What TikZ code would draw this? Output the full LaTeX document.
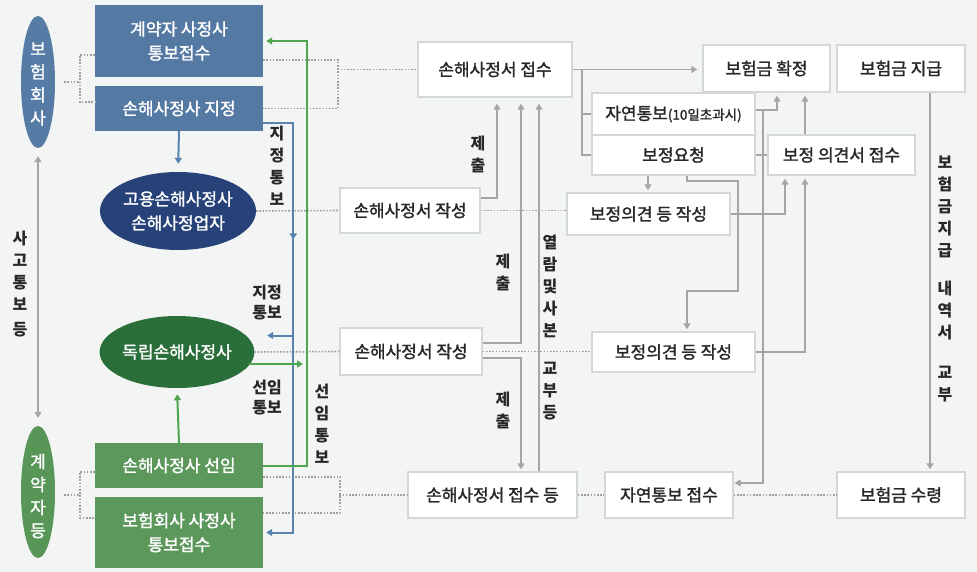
\documentclass[tikz,border=0pt]{standalone}
\usepackage{fontspec}
\setmainfont{Noto Sans CJK KR}
\newfontfamily\medfont{Noto Sans CJK KR}[FakeBold=1.6]
\usetikzlibrary{arrows.meta,calc,shapes.geometric}
\definecolor{bgc}{RGB}{243,245,245}
\definecolor{boxline}{RGB}{212,215,215}
\definecolor{txt}{RGB}{40,40,40}
\definecolor{bluebox}{RGB}{84,121,163}
\definecolor{insc}{RGB}{86,124,165}
\definecolor{navy}{RGB}{38,66,120}
\definecolor{dgreen}{RGB}{42,110,58}
\definecolor{greenbox}{RGB}{92,152,92}
\definecolor{conc}{RGB}{88,150,88}
\definecolor{bluel}{RGB}{90,130,175}
\definecolor{greenl}{RGB}{80,165,80}
\definecolor{grayl}{RGB}{165,165,165}
\definecolor{dotc}{RGB}{160,160,160}
\begin{document}
\begin{tikzpicture}[x=1pt,y=-1pt,
  wbox/.style={draw=boxline,line width=1.4pt,fill=white,inner sep=0pt,text=txt,font=\medfont\fontsize{17}{22}\selectfont,align=center},
  bbox/.style={fill=bluebox,inner sep=0pt,text=white,font=\medfont\fontsize{17}{24}\selectfont,align=center},
  gbox/.style={fill=greenbox,inner sep=0pt,text=white,font=\medfont\fontsize{17}{24}\selectfont,align=center},
  ell/.style={ellipse,inner sep=0pt,text=white,font=\medfont\fontsize{17}{24}\selectfont,align=center},
  vwhite/.style={text=white,inner sep=0pt,font=\medfont\fontsize{17}{23}\selectfont,align=center},
  vlab/.style={text=txt,inner sep=0pt,font=\bfseries\fontsize{16}{22}\selectfont,align=center},
  hlab/.style={text=txt,inner sep=0pt,font=\bfseries\fontsize{16}{20}\selectfont,align=center},
  gtip/.tip={Triangle[length=6pt,width=7pt]},
  gln/.style={draw=grayl,line width=1.8pt},
  garr/.style={gln,-gtip,shorten >=3pt},
  dot/.style={draw=dotc,line width=1.6pt,dash pattern=on 1.6pt off 1.6pt},
  bl/.style={draw=bluel,line width=2pt},
  gr/.style={draw=greenl,line width=2pt}
]
\fill[bgc] (0,0) rectangle (977,572);
\useasboundingbox (0,0) rectangle (977,572);

% left column
\node[ell,fill=insc,minimum width=34pt,minimum height=132pt] (ins) at (38,82) {};
\node[vwhite] (inst) at (38,84) {보\\험\\회\\사};
\node[ell,fill=conc,minimum width=34pt,minimum height=132pt] (con) at (38,492) {};
\node[vwhite] (cont) at (38,496) {계\\약\\자\\등};

\node[bbox,minimum width=168pt,minimum height=72pt] (cs) at (179,41) {계약자 사정사\\통보접수};
\node[bbox,minimum width=168pt,minimum height=45pt] (jj) at (179,108.5) {손해사정사 지정};
\node[gbox,minimum width=168pt,minimum height=45pt] (sr) at (179,465.5) {손해사정사 선임};
\node[gbox,minimum width=168pt,minimum height=71pt] (bt) at (179,532.5) {보험회사 사정사\\통보접수};
\node[ell,fill=navy,minimum width=156pt,minimum height=78pt] (emp) at (178,211) {고용손해사정사\\손해사정업자};
\node[ell,fill=dgreen,minimum width=154pt,minimum height=72pt] (ind) at (177,352) {독립손해사정사};

% white boxes
\node[wbox,minimum width=154pt,minimum height=55pt] (rcv) at (495,69.5) {손해사정서 접수};
\node[wbox,minimum width=140pt,minimum height=45pt] (wr1) at (410,210.5) {손해사정서 작성};
\node[wbox,minimum width=142pt,minimum height=47pt] (wr2) at (411,351.5) {손해사정서 작성};
\node[wbox,minimum width=169pt,minimum height=46pt] (rcv2) at (492.5,495) {손해사정서 접수 등};
\node[wbox,minimum width=128pt,minimum height=46pt] (nrc) at (669,495) {자연통보 접수};
\node[wbox,minimum width=128pt,minimum height=46pt] (recv) at (901,495) {보험금 수령};
\node[wbox,minimum width=163pt,minimum height=40pt] (op2) at (673.5,352) {보정의견 등 작성};
\node[wbox,minimum width=163pt,minimum height=42pt] (op1) at (648.5,214) {보정의견 등 작성};
\node[wbox,minimum width=163pt,minimum height=42pt] (nn) at (673.5,114) {자연통보{\fontsize{13.5}{13.5}\selectfont(10일초과시)}};
\node[wbox,minimum width=163pt,minimum height=40pt] (cr) at (673.5,155) {보정요청};
\node[wbox,minimum width=127pt,minimum height=47pt] (conf) at (766.5,68.5) {보험금 확정};
\node[wbox,minimum width=128pt,minimum height=47pt] (pay) at (901,68.5) {보험금 지급};
\node[wbox,minimum width=147pt,minimum height=40pt] (opr) at (841.5,155) {보정 의견서 접수};

% left arrow between ellipses
\draw[gln,gtip-gtip] ([yshift=-8pt]ins.south) -- ([yshift=8pt]con.north);
\node[vlab] (l0) at (20,284) {사\\고\\통\\보\\[3pt]등};

% dotted brackets
\draw[dot] ([yshift=-14pt]cs.west) -- ++(-15,0) -- ($([yshift=6.5pt]jj.west)+(-15,0)$) -- ([yshift=6.5pt]jj.west);
\draw[dot] ([xshift=9pt]ins.east) -- ($(ins.east)+(25,0)$);
\draw[dot] ([yshift=-19pt]cs.east) -- ++(75,0) -- ($(jj.east)+(75,0)$) -- (jj.east);
\draw[dot] ($(rcv.west)+(-80,0)$) -- (rcv.west);

\draw[dot] ([yshift=-6.5pt]sr.west) -- ++(-15,0) -- ($([yshift=14.5pt]bt.west)+(-15,0)$) -- ([yshift=14.5pt]bt.west);
\draw[dot] ($(con.east)+(9,3)$) -- ($(con.east)+(25,3)$);
\draw[dot] ([yshift=-11.5pt]sr.east) -- ++(77,0) -- ($([yshift=19.5pt]bt.east)+(77,0)$) -- ([yshift=19.5pt]bt.east);
\draw[dot] ($(rcv2.west)+(-68,0)$) -- (rcv2.west);

\draw[dot] (emp.east) -- (wr1.west);
\draw[dot] (wr1.east) -- (wr1.east -| op1.west);
\draw[dot] (ind.east) -- (wr2.west);
\draw[dot] (wr2.east) -- (wr2.east -| op2.west);
\draw[dot] (rcv2.east) -- (nrc.west);
\draw[dot] (nrc.east) -- (recv.west);

% blue connectors
\draw[bl,-gtip,shorten >=8pt] (jj.south) -- (emp.north);
\draw[bl,-gtip,shorten >=3pt] ([yshift=-14.5pt]jj.east) -- ++(30,0) -- ($(bt.east)+(30,0)$) -- (bt.east);
\draw[bl,-gtip] ($(jj.east)+(30,60)$) -- ($(jj.east)+(30,131)$);
\coordinate (bj) at ($(jj.east)+(30,227)$);
\coordinate (bjt) at ($(jj.east)+(4,227)$);
\draw[bl,-gtip] (bj) -- (bjt);
\node[vlab] (l1) at (277,166) {지\\정\\통\\보};
\node[hlab] (l2) at (267,303) {지정\\통보};

% green connectors
\draw[gr,-gtip,shorten >=6pt] (sr.north) -- (ind.south);
\draw[gr,-gtip,shorten >=3pt] (sr.east) -- ++(44,0) -- ($(cs.east)+(44,0)$) -- (cs.east);
\coordinate (ga) at ($(ind.center)+(72,12)$);
\coordinate (gb) at ($(ind.center)+(126,12)$);
\draw[gr,-gtip] (ga) -- (gb);
\node[hlab] (l3) at (267,398) {선임\\통보};
\node[vlab] (l4) at (322,424) {선\\임\\통\\보};

% gray connectors
\draw[garr,shorten >=5pt] (rcv.east) -- (conf.west |- rcv.east);
\coordinate (v581) at ($(rcv.east)+(9,0)$);
\draw[gln] (v581) |- (cr.west);
\draw[gln] (v581 |- nn.west) -- (nn.west);
\draw[garr,shorten >=6pt] ([yshift=12.5pt]wr1.east) -| ([xshift=2pt]rcv.south);
\draw[garr,shorten >=6pt] ([yshift=8.5pt]wr2.east) -| ([xshift=26pt]rcv.south);
\draw[garr,shorten >=6pt] ([xshift=46.5pt]rcv2.north) -- ([xshift=44pt]rcv.south);
\draw[garr,shorten >=2pt] ([yshift=-6.5pt]wr2.east) -| ([xshift=28.5pt]rcv2.north);
\node[vlab] (l5) at (478,154) {제\\출};
\node[vlab] (l6) at (503,272) {제\\출};
\node[vlab] (l7) at (503,410) {제\\출};
\node[vlab] (l8) at (550,328) {열\\람\\및\\사\\본\\[16pt]교\\부\\등};

\draw[garr] ([yshift=4pt]nn.east) -| ([xshift=10.5pt]conf.south);
\draw[garr,shorten >=1pt] ($(nn.east)+(7,-4)$) |- ([yshift=12pt]nrc.east);
\draw[gln] (cr.east) -- (opr.west);
\draw[garr] ([xshift=-36.5pt]opr.north) -- ([xshift=38.5pt]conf.south);
\draw[garr] (op1.east) -| ([xshift=-56.5pt]opr.south);
\draw[garr] (op2.east) -| ([xshift=-36.5pt]opr.south);
\draw[garr,shorten >=2pt] ([xshift=-25.5pt]cr.south) -- ([xshift=-0.5pt]op1.north);
\draw[garr,shorten >=2pt] ([xshift=13.5pt]cr.south) -- ++(0,5) -| ($(op2.north)+(64.5,-40)$) -| ([xshift=13.5pt]op2.north);
\draw[garr,shorten >=2pt] ([xshift=29pt]pay.south) -- ([xshift=29pt]recv.north);
\node[vlab] (l9) at (945,279) {보\\험\\금\\지\\급\\[16pt]내\\역\\서\\[18pt]교\\부};
\end{tikzpicture}
\end{document}
